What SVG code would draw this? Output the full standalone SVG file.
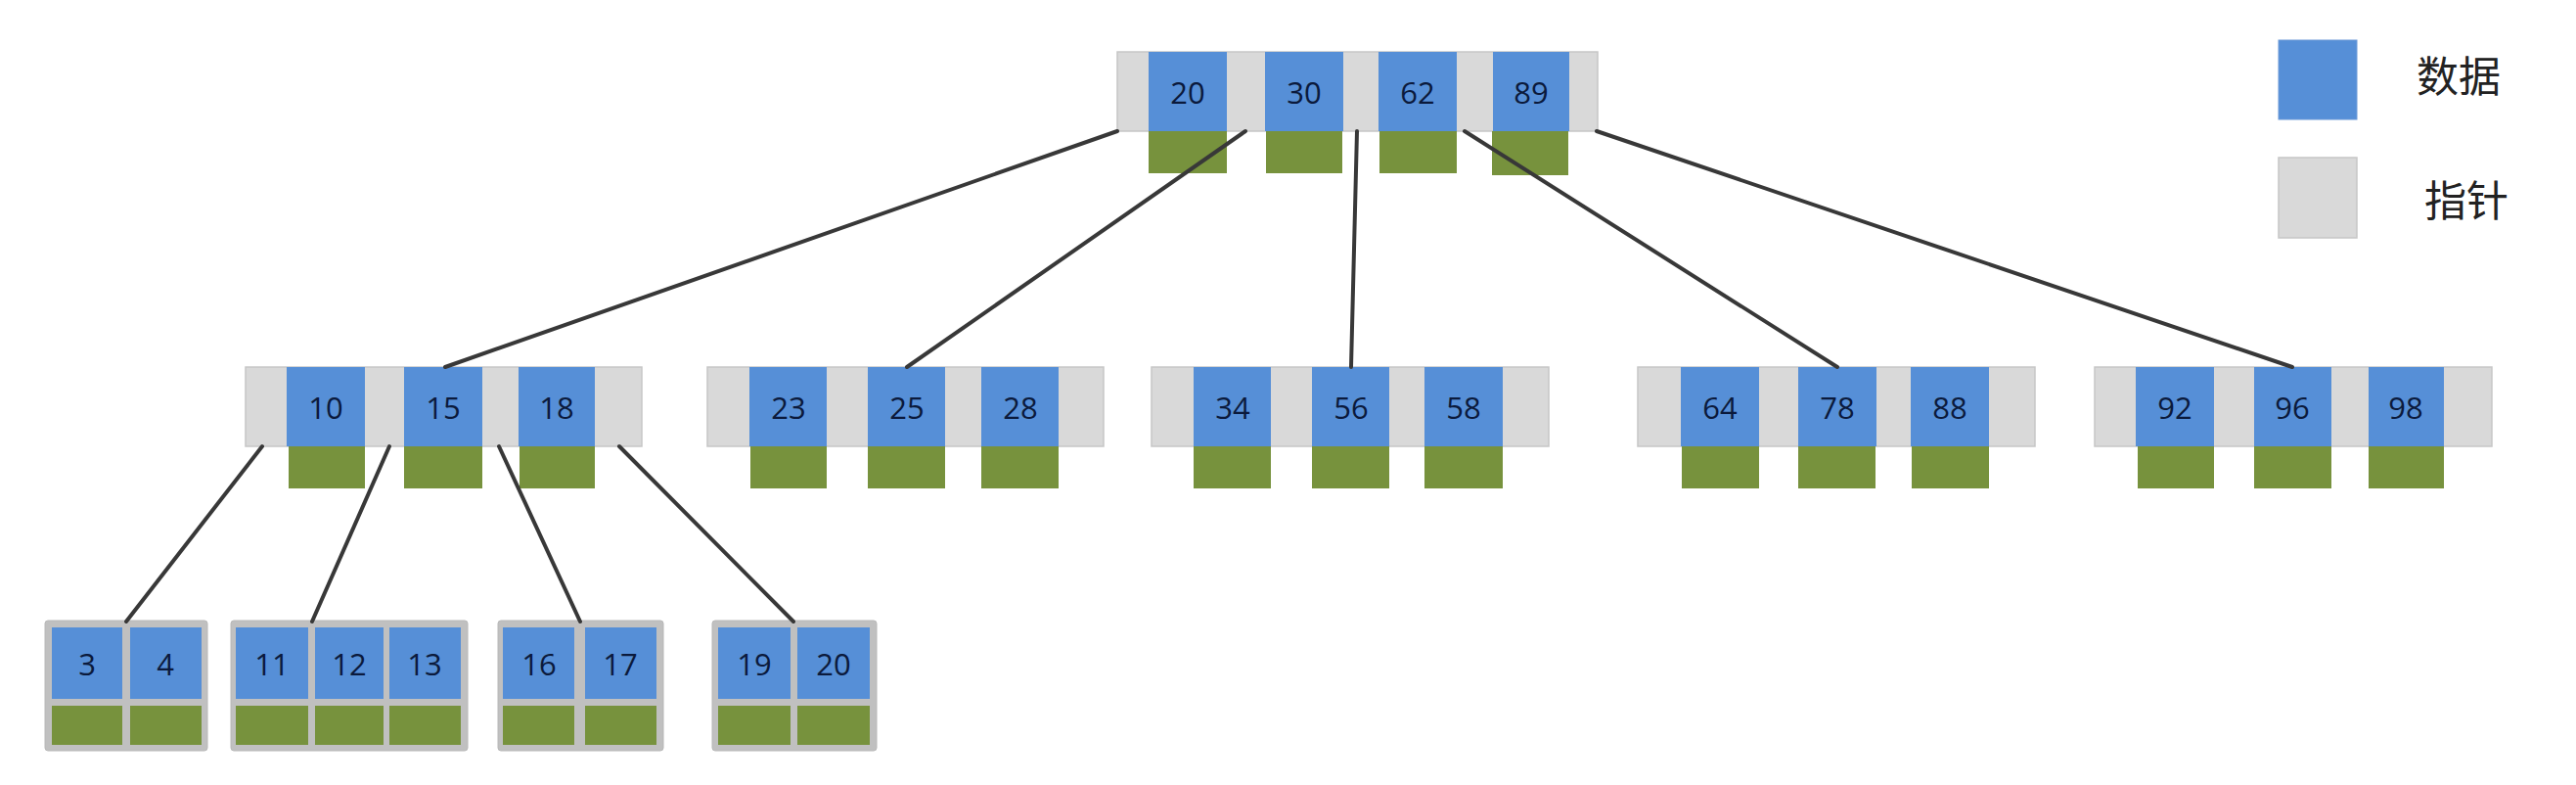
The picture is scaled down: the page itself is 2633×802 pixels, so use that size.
<svg xmlns="http://www.w3.org/2000/svg" width="2633" height="802" viewBox="0 0 2633 802">
<style>
.ptr{fill:#d9d9d9;stroke:#c6c6c6;stroke-width:1.5}
.dat{fill:#568fd7}
.grn{fill:#77923d}
.leaf{fill:#c0c0c0;stroke:#b8b8b8;stroke-width:1}
.num{font-family:"Open Sans","Liberation Sans",sans-serif;font-size:31px;fill:#0b1a3c;text-anchor:middle;dominant-baseline:central}
.lg{font-family:"Noto Sans CJK SC","Noto Sans",sans-serif;font-size:43px;fill:#222;dominant-baseline:central}
.edge{stroke:#383838;stroke-width:4;fill:none;stroke-linecap:round}
</style>
<rect width="2633" height="802" fill="#ffffff"/>
<g id="root">
<rect class="ptr" x="1142" y="53" width="491" height="81"/>
<rect class="dat" x="1174" y="53" width="80" height="81"/>
<rect class="dat" x="1293" y="53" width="80" height="81"/>
<rect class="dat" x="1409" y="53" width="80" height="81"/>
<rect class="dat" x="1526" y="53" width="78" height="81"/>
<rect class="grn" x="1174" y="134" width="80" height="43"/>
<rect class="grn" x="1294" y="134" width="78" height="43"/>
<rect class="grn" x="1410" y="134" width="79" height="43"/>
<rect class="grn" x="1525" y="134" width="78" height="45"/>
<text class="num" x="1214" y="94">20</text>
<text class="num" x="1333" y="94">30</text>
<text class="num" x="1449" y="94">62</text>
<text class="num" x="1565" y="94">89</text>
</g>
<g id="n1">
<rect class="ptr" x="251" y="375" width="405" height="81"/>
<rect class="dat" x="293" y="375" width="80" height="81"/>
<rect class="dat" x="413" y="375" width="80" height="81"/>
<rect class="dat" x="530" y="375" width="78" height="81"/>
<rect class="grn" x="295" y="456" width="78" height="43"/>
<rect class="grn" x="413" y="456" width="80" height="43"/>
<rect class="grn" x="531" y="456" width="77" height="43"/>
<text class="num" x="333" y="416">10</text>
<text class="num" x="453" y="416">15</text>
<text class="num" x="569" y="416">18</text>
</g>
<g id="n2">
<rect class="ptr" x="723" y="375" width="405" height="81"/>
<rect class="dat" x="766" y="375" width="79" height="81"/>
<rect class="dat" x="887" y="375" width="79" height="81"/>
<rect class="dat" x="1003" y="375" width="79" height="81"/>
<rect class="grn" x="767" y="456" width="78" height="43"/>
<rect class="grn" x="887" y="456" width="79" height="43"/>
<rect class="grn" x="1003" y="456" width="79" height="43"/>
<text class="num" x="806" y="416">23</text>
<text class="num" x="927" y="416">25</text>
<text class="num" x="1043" y="416">28</text>
</g>
<g id="n3">
<rect class="ptr" x="1177" y="375" width="406" height="81"/>
<rect class="dat" x="1220" y="375" width="79" height="81"/>
<rect class="dat" x="1341" y="375" width="79" height="81"/>
<rect class="dat" x="1456" y="375" width="80" height="81"/>
<rect class="grn" x="1220" y="456" width="79" height="43"/>
<rect class="grn" x="1341" y="456" width="79" height="43"/>
<rect class="grn" x="1456" y="456" width="80" height="43"/>
<text class="num" x="1260" y="416">34</text>
<text class="num" x="1381" y="416">56</text>
<text class="num" x="1496" y="416">58</text>
</g>
<g id="n4">
<rect class="ptr" x="1674" y="375" width="406" height="81"/>
<rect class="dat" x="1718" y="375" width="80" height="81"/>
<rect class="dat" x="1838" y="375" width="80" height="81"/>
<rect class="dat" x="1953" y="375" width="80" height="81"/>
<rect class="grn" x="1719" y="456" width="79" height="43"/>
<rect class="grn" x="1838" y="456" width="79" height="43"/>
<rect class="grn" x="1954" y="456" width="79" height="43"/>
<text class="num" x="1758" y="416">64</text>
<text class="num" x="1878" y="416">78</text>
<text class="num" x="1993" y="416">88</text>
</g>
<g id="n5">
<rect class="ptr" x="2141" y="375" width="406" height="81"/>
<rect class="dat" x="2183" y="375" width="80" height="81"/>
<rect class="dat" x="2304" y="375" width="79" height="81"/>
<rect class="dat" x="2421" y="375" width="77" height="81"/>
<rect class="grn" x="2185" y="456" width="78" height="43"/>
<rect class="grn" x="2304" y="456" width="79" height="43"/>
<rect class="grn" x="2421" y="456" width="77" height="43"/>
<text class="num" x="2223" y="416">92</text>
<text class="num" x="2343" y="416">96</text>
<text class="num" x="2459" y="416">98</text>
</g>
<g id="leaf1">
<rect class="leaf" x="46" y="634" width="166" height="133" rx="3"/>
<rect class="dat" x="53" y="641" width="72" height="73"/>
<rect class="dat" x="133" y="641" width="73" height="73"/>
<rect class="grn" x="53" y="721" width="72" height="40"/>
<rect class="grn" x="133" y="721" width="73" height="40"/>
<text class="num" x="89" y="678">3</text>
<text class="num" x="169" y="678">4</text>
</g>
<g id="leaf2">
<rect class="leaf" x="236" y="634" width="242" height="133" rx="3"/>
<rect class="dat" x="241" y="641" width="74" height="73"/>
<rect class="dat" x="322" y="641" width="70" height="73"/>
<rect class="dat" x="398" y="641" width="73" height="73"/>
<rect class="grn" x="241" y="721" width="74" height="40"/>
<rect class="grn" x="322" y="721" width="70" height="40"/>
<rect class="grn" x="398" y="721" width="73" height="40"/>
<text class="num" x="278" y="678">11</text>
<text class="num" x="357" y="678">12</text>
<text class="num" x="434" y="678">13</text>
</g>
<g id="leaf3">
<rect class="leaf" x="509" y="634" width="169" height="133" rx="3"/>
<rect class="dat" x="514" y="641" width="73" height="73"/>
<rect class="dat" x="598" y="641" width="73" height="73"/>
<rect class="grn" x="514" y="721" width="73" height="40"/>
<rect class="grn" x="598" y="721" width="73" height="40"/>
<text class="num" x="551" y="678">16</text>
<text class="num" x="634" y="678">17</text>
</g>
<g id="leaf4">
<rect class="leaf" x="728" y="634" width="168" height="133" rx="3"/>
<rect class="dat" x="734" y="641" width="74" height="73"/>
<rect class="dat" x="815" y="641" width="74" height="73"/>
<rect class="grn" x="734" y="721" width="74" height="40"/>
<rect class="grn" x="815" y="721" width="74" height="40"/>
<text class="num" x="771" y="678">19</text>
<text class="num" x="852" y="678">20</text>
</g>
<g id="legend">
<rect class="dat" x="2329" y="41" width="80" height="81" stroke="#6d9ad8" stroke-width="1"/>
<rect class="ptr" x="2329" y="161" width="80" height="82"/>
<text class="lg" x="2470" y="75">数据</text>
<text class="lg" x="2478" y="202">指针</text>
</g>
<g id="connectors">
<line class="edge" x1="1142" y1="134" x2="455" y2="375"/>
<line class="edge" x1="1273" y1="134" x2="927" y2="375"/>
<line class="edge" x1="1387" y1="134" x2="1381" y2="375"/>
<line class="edge" x1="1497" y1="134" x2="1878" y2="375"/>
<line class="edge" x1="1632" y1="134" x2="2343" y2="375"/>
<line class="edge" x1="268" y1="456" x2="129" y2="635"/>
<line class="edge" x1="398" y1="456" x2="319" y2="635"/>
<line class="edge" x1="510" y1="456" x2="593" y2="635"/>
<line class="edge" x1="633" y1="456" x2="811" y2="635"/>
</g>
</svg>
